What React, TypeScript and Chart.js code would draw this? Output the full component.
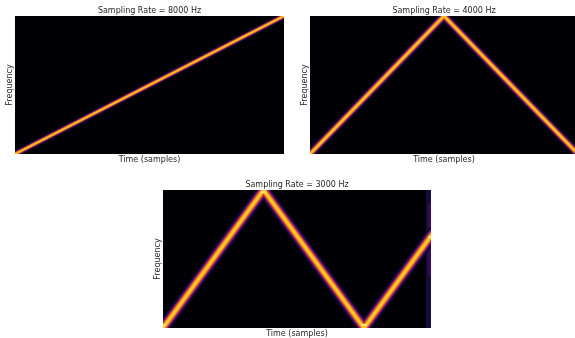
import React, { useEffect, useRef } from "react";
import { Chart, registerables } from "chart.js";

Chart.register(...registerables);

const rates = [8000, 4000, 3000];
const time8000 = [0, 1];
const freq8000 = [0, 4000];
const time4000 = [0, 0.5, 1];
const freq4000 = [0, 2000, 0];
const time3000 = [0, 0.375, 0.75, 1];
const freq3000 = [0, 1500, 0, 1000];
const turnTime3000 = [0, 0.375, 0.75, 1];
const turnFreq3000 = [35, 1478, 35, 990];
const edgeTime3000 = [1, 1];
const edgeFreq3000 = [0, 1500];
const edgeBrightFreq3000 = [560, 1360];

const titleLabel = "Sampling Rate = ";
const xLabel = "Time (samples)";
const yLabel = "Frequency";

const inferno = ["#0b0724", "#160b39", "#420a68", "#6a176e", "#932667", "#bc3754", "#dd513a", "#f37819", "#fca50a", "#f9c932"];
const spread = [1, 0.876, 0.733, 0.634, 0.553, 0.481, 0.413, 0.345, 0.273, 0.17];
const ridgeWidths = [6.5, 9, 13];

const FONT = "DejaVu Sans";

const panels = [
  { time: time8000, freq: freq8000, left: 0, top: 0, areaW: 269, ridge: ridgeWidths[0] },
  { time: time4000, freq: freq4000, left: 295, top: 0, areaW: 268, ridge: ridgeWidths[1] },
  { time: time3000, freq: freq3000, left: 148, top: 174, areaW: 268, ridge: ridgeWidths[2], edge: true },
];

const blackArea = {
  id: "blackArea",
  beforeDatasetsDraw(chart: Chart) {
    const { ctx, chartArea: a } = chart;
    ctx.save();
    ctx.fillStyle = "#000004";
    ctx.fillRect(a.left, a.top, a.width, a.height);
    ctx.restore();
  },
};

function Panel({ index }: { index: number }) {
  const ref = useRef<HTMLCanvasElement>(null);
  const p = panels[index];
  const gutter = 15;
  const width = p.areaW + gutter * 2;
  const height = 165;
  useEffect(() => {
    const pts = p.time.map((t, i) => ({ x: t, y: p.freq[i] }));
    const nyquist = rates[index] / 2;
    const datasets: any[] = [];
    inferno.forEach((c, i) => {
      datasets.push({
        data: pts,
        order: inferno.length - i,
        borderColor: c,
        borderWidth: p.ridge * spread[i],
        borderJoinStyle: "miter",
        borderCapStyle: "square",
        pointRadius: 0,
        tension: 0,
      });
    });
    if (p.edge) {
      datasets.push({
        data: edgeTime3000.map((t, i) => ({ x: t, y: edgeFreq3000[i] })),
        order: 99,
        borderColor: "#170b3a",
        borderWidth: 10,
        pointRadius: 0,
      });
      datasets.push({
        data: edgeTime3000.map((t, i) => ({ x: t, y: edgeBrightFreq3000[i] })),
        order: 98,
        borderColor: "#320c5a",
        borderWidth: 6,
        pointRadius: 0,
      });
      datasets.push({
        data: turnTime3000.map((t, i) => ({ x: t, y: turnFreq3000[i] })),
        order: -1,
        showLine: false,
        pointStyle: "line",
        pointRadius: 2.5,
        pointBorderWidth: 1.5,
        pointBorderColor: "#fcf3a0",
      });
    }
    const chart = new Chart(ref.current!, {
      type: "line",
      data: { datasets },
      plugins: [blackArea],
      options: {
        animation: false,
        responsive: false,
        layout: { padding: 0 },
        plugins: {
          legend: { display: false },
          tooltip: { enabled: false },
          title: {
            display: true,
            text: titleLabel + rates[index] + " Hz",
            color: "#262626",
            font: { family: FONT, size: 8, weight: "normal", lineHeight: 1 },
            padding: { top: 6.5, bottom: 1.5 },
          },
        },
        scales: {
          x: {
            type: "linear",
            min: 0,
            max: 1,
            ticks: { display: false },
            grid: { display: false },
            border: { display: false },
            title: { display: true, text: xLabel, color: "#262626", font: { family: FONT, size: 8 }, padding: { top: 1, bottom: 0 } },
            afterFit: (s: any) => { s.height = 11; },
          },
          y: {
            type: "linear",
            min: 0,
            max: nyquist,
            ticks: { display: false },
            grid: { display: false },
            border: { display: false },
            title: { display: true, text: yLabel, color: "#262626", font: { family: FONT, size: 8 }, padding: { top: 5.5, bottom: 0 } },
            afterFit: (s: any) => { s.width = gutter; },
          },
          y2: {
            type: "linear",
            position: "right",
            ticks: { display: false },
            grid: { display: false },
            border: { display: false },
            afterFit: (s: any) => { s.width = gutter; },
          },
        },
      },
    });
    return () => chart.destroy();
  }, []);
  return (
    <canvas
      ref={ref}
      width={width}
      height={height}
      style={{ position: "absolute", left: p.left, top: p.top, width, height, filter: "blur(0.35px)" }}
    />
  );
}

export default function App() {
  return (
    <div style={{ position: "absolute", left: 0, top: 0, width: 575, height: 338, overflow: "hidden", background: "#fff" }}>
      {panels.map((_, i) => (
        <Panel key={i} index={i} />
      ))}
    </div>
  );
}
